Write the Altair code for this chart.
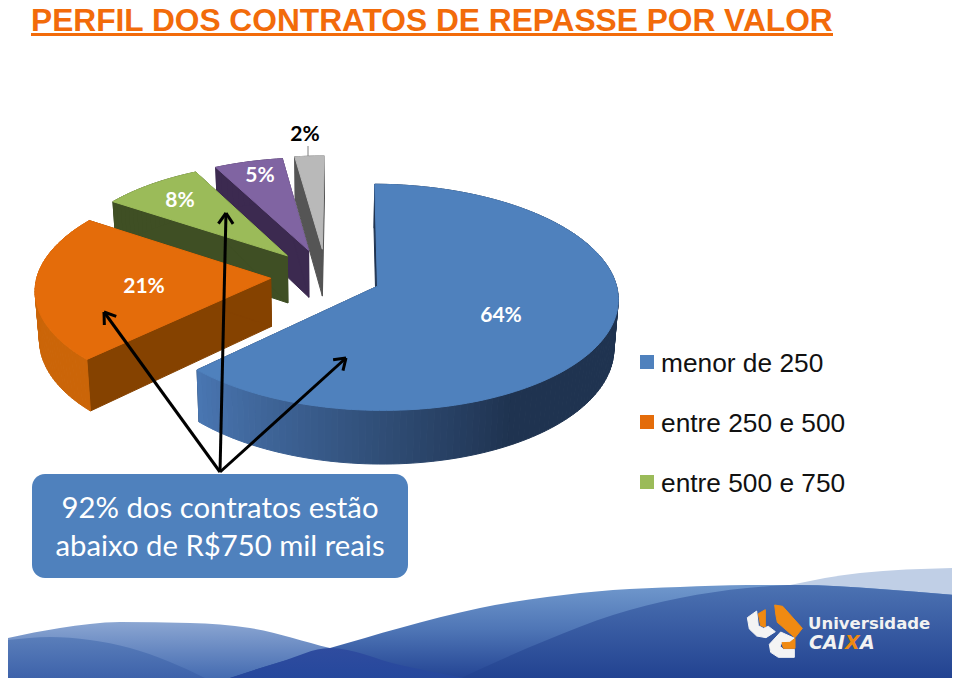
import math
import altair as alt
import pandas as pd

# --- values ---
categories = ["menor de 250", "entre 250 e 500", "entre 500 e 750", "entre 750 e 1000", "acima de 1000"]
shares = [62.6, 21.7, 8.0, 5.4, 2.3]
slice_labels = ["64%", "21%", "8%", "5%", "2%"]
top_colors = ["#4f81bd", "#e46c0a", "#9bbb59", "#8064a2", "#b9b9b9"]
radial_colors = ["#1f3350", "#854200", "#3f4f24", "#3c2a50", "#555555"]
radius_factor = [1, 0.985, 0.96, 0.96, 0.97]
explode_factor = [0.234, 0.234, 0.25, 0.25, 0.25]
legend_names = categories[:3]
legend_colors = top_colors[:3]
legend_y = [355, 415, 475]
legend_base = [372, 432, 492]

W, H, OX, OY = 944, 670, 8, 8
xs = alt.Scale(domain=[OX, OX + W], nice=False, zero=False)
ys = alt.Scale(domain=[OY, OY + H], nice=False, zero=False, reverse=True)

# --- pie geometry ---
cx, cy, rx, ry, k, depth_px, start_deg = 326, 276, 237, 110, 0.097, 48, 0.5


def project(X, Y, d=0):
    s = 1 / (1 + k * Y)
    return [cx + rx * X * s * (1 - 0.015 * d), cy - ry * Y * s + depth_px * s * d]


def feature(points, fill):
    ring = [list(p) for p in points] + [list(points[0])]
    return {"type": "Feature",
            "geometry": {"type": "Polygon", "coordinates": [ring]},
            "properties": {"fill": fill}}


def mix(a, b, t):
    ca = [int(a[i:i + 2], 16) for i in (1, 3, 5)]
    cb = [int(b[i:i + 2], 16) for i in (1, 3, 5)]
    return "#" + "".join(f"{round(p + (q - p) * t):02x}" for p, q in zip(ca, cb))


bounds = [start_deg]
for s in shares:
    bounds.append(bounds[-1] + s * 3.6)

pie_features = []
for i in range(len(shares) - 1, -1, -1):
    a0, a1 = bounds[i], bounds[i + 1]
    mid = math.radians((a0 + a1) / 2)
    ex, ey = explode_factor[i] * math.sin(mid), explode_factor[i] * math.cos(mid)
    n = max(6, int((a1 - a0) / 1.5))
    rim = []
    for j in range(n + 1):
        th = math.radians(a0 + (a1 - a0) * j / n)
        rf = radius_factor[i]
        rim.append((rf * math.sin(th) + ex, rf * math.cos(th) + ey, a0 + (a1 - a0) * j / n))
    # radial side walls
    for r in (rim[0], rim[-1]):
        pie_features.append(feature([project(ex, ey), project(r[0], r[1]),
                                     project(r[0], r[1], 1), project(ex, ey, 1)], radial_colors[i]))
    # outer wall
    for p, q in zip(rim[:-1], rim[1:]):
        if i == 0:
            col = mix("#4a77b3", "#1f3350", min(1, max(0, (226 - p[2]) / 76)))
        elif i == 1:
            col = "#cb6508"
        else:
            col = radial_colors[i]
        pie_features.append(feature([project(p[0], p[1]), project(q[0], q[1]),
                                     project(q[0], q[1], 1), project(p[0], p[1], 1)], col))
    # top face
    top = [project(ex, ey)] + [project(r[0], r[1]) for r in rim]
    pie_features.append(feature(top, top_colors[i]))

# --- logo outlines (zoomed-crop coordinates) ---
logo_shapes = [
    ("#f4f4f4", [(22, 68), (50, 48), (55, 92), (70, 100), (85, 94), (106, 110), (78, 128), (50, 123), (28, 102)]),
    ("#f08a12", [(55, 56), (76, 44), (76, 96), (62, 92)]),
    ("#f08a12", [(104, 30), (128, 34), (187, 100), (165, 128), (112, 82), (108, 62)]),
    ("#f4f4f4", [(88, 148), (122, 111), (164, 130), (150, 142), (126, 142), (120, 154), (130, 163),
                 (163, 163), (163, 187), (115, 187), (92, 172)]),
    ("#f08a12", [(126, 143), (150, 142), (165, 130), (165, 160), (130, 160)]),
]
logo_features = [feature([(740 + a / 3, 595 + b / 3) for a, b in pts], col) for col, pts in logo_shapes]


def geo_layer(features):
    data = alt.InlineData(values={"type": "FeatureCollection", "features": features},
                          format=alt.DataFormat(property="features", type="json"))
    return (alt.Chart(data).mark_geoshape(strokeWidth=1)
            .encode(fill=alt.Fill("properties.fill:N", scale=None, legend=None),
                    stroke=alt.Stroke("properties.fill:N", scale=None, legend=None))
            .project(type="identity", scale=1, translate=[-OX, -OY]))


def X(f="x"):
    return alt.X(f"{f}:Q", scale=xs, axis=None)


def Y(f="y"):
    return alt.Y(f"{f}:Q", scale=ys, axis=None)


def grad(*stops):
    return alt.Gradient(gradient="linear", x1=0, x2=0, y1=0, y2=1,
                        stops=[alt.GradientStop(color=c, offset=o) for o, c in stops])


def wave(px, py, fill, base=683):
    base_vals = base if isinstance(base, list) else [base] * len(px)
    df = pd.DataFrame({"x": px, "y": py, "y2": base_vals})
    return (alt.Chart(df).mark_area(interpolate="monotone", color=fill, line=False)
            .encode(x=X(), y=Y(), y2="y2:Q"))


def texts(items, **kw):
    df = pd.DataFrame(items, columns=["x", "y", "t"])
    return alt.Chart(df).mark_text(baseline="alphabetic", **kw).encode(x=X(), y=Y(), text="t:N")


def segs(rows, **kw):
    df = pd.DataFrame(rows, columns=["x", "y", "x2", "y2"])
    return alt.Chart(df).mark_rule(**kw).encode(x=X(), y=Y(), x2="x2:Q", y2="y2:Q")


# --- waves ---
mid_x = [215, 280, 330, 400, 480, 547, 613, 680, 747, 797, 880, 956]
mid_y = [683, 662, 648, 628, 608, 597, 590, 587, 585, 585, 589, 595]
layers = [
    wave([790, 860, 956], [585, 573, 568], "#c0cfe6", 600),
    wave([8, 60, 120, 190, 250, 330, 400, 480], [638, 628, 622, 623, 628, 648, 665, 681],
         grad((0, "#8ba6d2"), (1, "#3e66ae"))),
    wave([8, 50, 90, 130, 170, 215], [640, 637, 640, 648, 662, 683], grad((0, "#5a7eba"), (1, "#3a5fa8"))),
    wave(mid_x, mid_y, grad((0, "#7098cc"), (0.45, "#4f76b6"), (1, "#1f3f90"))),
    wave([450, 547, 613, 680, 747, 797, 880, 956], [683, 640, 615, 598, 588, 585, 589, 595],
         grad((0, "#4c72b2"), (1, "#20408f"))),
    wave([215, 280, 330, 400, 480], [683, 662, 648, 665, 681], grad((0, "#2f4c9f"), (1, "#24479c"))),
    geo_layer(logo_features),
    texts([(808, 629, "Universidade")], font="DejaVu Sans", fontWeight="bold", fontSize=16.5, color="#f2f2f2", align="left"),
    texts([(809, 649, "CAI"), (860, 649, "A")], font="DejaVu Sans", fontWeight="bold", fontStyle="italic",
          fontSize=19, color="#f2f2f2", align="left"),
    texts([(845, 649, "X")], font="DejaVu Sans", fontWeight="bold", fontStyle="italic", fontSize=19,
          color="#f08a12", align="left"),
    geo_layer(pie_features),
]

# --- title ---
layers.append(texts([(31, 30.5, "PERFIL DOS CONTRATOS DE REPASSE POR VALOR")], font="Liberation Sans",
                    fontWeight="bold", fontSize=31.7, color="#f26b0a", align="left"))
layers.append(segs([(31, 34.5, 833, 34.5)], color="#f26b0a", strokeWidth=3))

# --- percent labels ---
label_pos = [(501, 322), (144, 293), (180, 207), (260, 182)]
layers.append(texts([(a, b, t) for (a, b), t in zip(label_pos, slice_labels[:4])], font="Lato",
                    fontWeight="bold", fontSize=21, color="#ffffff", align="center"))
layers.append(texts([(305, 141, slice_labels[4])], font="Lato", fontWeight="bold", fontSize=21,
                    color="#000000", align="center"))
layers.append(segs([(308, 146, 308, 156)], color="#7f7f7f", strokeWidth=1))

# --- callout box ---
box = pd.DataFrame({"x": [32], "x2": [408], "y": [474], "y2": [578]})
layers.append(alt.Chart(box).mark_rect(cornerRadius=13, color="#4f81bd")
              .encode(x=X(), x2="x2:Q", y=Y(), y2="y2:Q"))
layers.append(texts([(220, 518, "92% dos contratos estão"), (220, 556, "abaixo de R$750 mil reais")],
                    font="Lato", fontSize=29.3, color="#ffffff", align="center"))

# --- arrows ---
origin = (220, 472)
tips = [(104, 312), (226, 213), (346, 358)]
shafts, heads = [], []
for tx, ty in tips:
    shafts.append((origin[0], origin[1], tx, ty))
    ang = math.atan2(origin[1] - ty, origin[0] - tx)
    for d in (-0.6, 0.6):
        heads.append((tx, ty, tx + 13 * math.cos(ang + d), ty + 13 * math.sin(ang + d)))
layers.append(segs(shafts, color="#000000", strokeWidth=3))
layers.append(segs(heads, color="#000000", strokeWidth=3))

# --- legend ---
leg = pd.DataFrame({"x": [640] * 3, "x2": [654] * 3, "y": legend_y, "y2": [v + 14 for v in legend_y], "c": legend_colors})
layers.append(alt.Chart(leg).mark_rect().encode(x=X(), x2="x2:Q", y=Y(), y2="y2:Q",
                                                color=alt.Color("c:N", scale=None, legend=None)))
layers.append(texts([(661, b, t) for b, t in zip(legend_base, legend_names)], font="Liberation Sans",
                    fontSize=26.3, color="#111111", align="left"))

chart = (alt.layer(*layers)
         .resolve_scale(x="shared", y="shared")
         .properties(width=W, height=H, padding=0, background="#ffffff",
                     autosize=alt.AutoSizeParams(type="none"))
         .configure_view(stroke=None))
chart.save("out.html", embed_options={"renderer": "svg", "actions": False})
